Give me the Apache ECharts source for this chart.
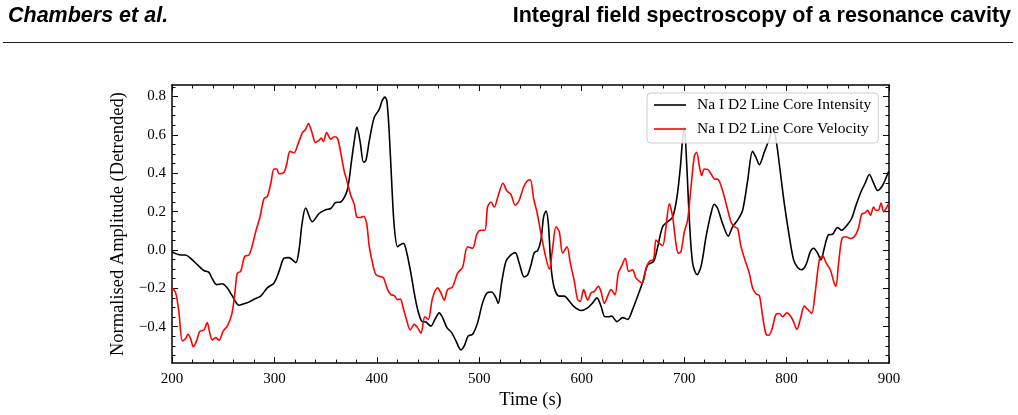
<!DOCTYPE html>
<html><head><meta charset="utf-8">
<script src="https://cdn.jsdelivr.net/npm/echarts@6/dist/echarts.min.js"></script>
<style>html,body{margin:0;padding:0;background:#fff}#c{width:1018px;height:415px}</style>
</head><body><div id="c"></div>
<script>
// ---- data ----
const intensityTime = [200,208.5,213,218,225,231,236,239,243.6,249,254,259,265.4,270,275,281.7,286.6,293,299.6,304.5,309.4,314,320.8,324,327,330.5,337,343.6,350,355,359.8,364.7,371,375.3,378,380.5,383.8,387,389.3,392.6,397.4,402.3,405,407.9,409.8,412,414.4,417,420.2,422.5,426,429.3,433.2,436.5,439.8,443.7,447.9,452.8,456.7,460.9,464.2,468.4,473,477.2,482,485.3,489.2,493.5,498.4,503.2,507.5,512,516.3,518.5,521.8,526,530.9,535.1,539,543.9,547.2,550.5,553.7,557,560.2,562.8,565.1,567.4,570,573.2,578.1,583,587.9,592.8,599.3,605.8,610.7,614.9,618.8,622.7,627,629.2,634.4,640,644.9,649.7,654.6,659.5,664.4,670.2,674.2,679,684,688.8,693,696.3,698.6,700.2,702.5,705.1,708.3,712.6,716.5,721.4,726.2,729.4,732.7,737.5,743.1,747.3,752.2,757.1,762,766.8,770.1,773.4,778.2,783.1,786.4,789.6,792.9,797.8,802.7,806.9,810.8,814.7,818.9,823.2,826.4,830.3,833.6,836.8,840.7,845,849.8,853.8,859,863.5,867.8,872.6,876.5,880.8,885,888.9,892.8,896,899.7];
const intensityValue = [-0.01,-0.026,-0.026,-0.043,-0.078,-0.107,-0.117,-0.147,-0.181,-0.176,-0.198,-0.241,-0.288,-0.281,-0.272,-0.253,-0.241,-0.198,-0.172,-0.112,-0.043,-0.04,-0.066,0.0,0.138,0.219,0.147,0.19,0.21,0.216,0.247,0.25,0.31,0.466,0.569,0.641,0.56,0.457,0.466,0.569,0.69,0.733,0.776,0.797,0.776,0.62,0.362,0.121,0.017,0.026,0.034,-0.017,-0.121,-0.224,-0.31,-0.371,-0.376,-0.397,-0.362,-0.328,-0.353,-0.405,-0.431,-0.474,-0.521,-0.5,-0.448,-0.44,-0.379,-0.276,-0.224,-0.219,-0.25,-0.279,-0.172,-0.06,-0.026,-0.014,-0.069,-0.141,-0.13,-0.078,-0.014,-0.003,0.052,0.172,0.203,0.138,-0.086,-0.198,-0.241,-0.241,-0.267,-0.297,-0.316,-0.302,-0.276,-0.25,-0.293,-0.348,-0.348,-0.345,-0.374,-0.353,-0.362,-0.31,-0.241,-0.169,-0.078,-0.06,0.017,0.121,0.147,0.172,0.276,0.431,0.586,0.64,0.448,0.155,-0.069,-0.129,-0.086,0.069,0.19,0.238,0.216,0.138,0.072,0.121,0.155,0.207,0.362,0.514,0.483,0.445,0.509,0.578,0.63,0.578,0.448,0.241,0.069,-0.052,-0.091,-0.103,-0.078,-0.009,0.009,-0.017,-0.052,0.009,0.078,0.083,0.117,0.103,0.129,0.164,0.233,0.302,0.345,0.393,0.348,0.31,0.328,0.362,0.41];
const velocityTime = [200,203.6,206.8,210.1,213.3,215.6,218.2,220.8,224,227,231.2,234.4,236.8,239.4,242.6,245.9,250.1,254,258.3,261.2,263.8,267.1,271,275.2,278.5,281.7,285.9,289.8,293.1,296.4,299.6,302.2,304.5,309.4,312,315.2,319.1,323,327.3,330.5,333.2,336.1,340.3,343.6,345.8,347.8,351,355,358.2,361.5,364.7,368,371.3,374.6,377.9,380.5,383.8,387,390,392.6,395.8,399.1,403.3,406.6,410.5,413.7,417,420.2,422.8,426.1,429.3,432.6,436.5,439.8,443,446.9,450.2,454.4,459.3,462.5,465.8,469,473.9,478.8,483.7,488.6,493.5,497.7,501.6,505.5,508.1,511.4,514.6,518.5,523.1,527,530.9,535.1,539,543.3,547.2,549.8,553.1,556.3,560.2,565.1,568.4,571.6,574.9,578.1,581.4,585.6,588.9,592.8,596,598.6,601.9,605.8,609.1,612.3,616.2,618.8,622.1,625.3,628.6,632.5,635.7,639,642.6,645.8,649.7,653,658.9,662.8,666,670.2,672.5,675.8,679,682.3,685.5,688.8,692,694.3,696.9,700.2,703.4,706.7,710,712.2,714.8,717.1,719.7,723,726.2,729.4,733.3,737.5,741.8,745.7,748.9,752.2,755.5,759.4,763.6,766.8,770.1,773.4,776.6,779.9,782.5,785.7,789.6,792.9,796.1,800.4,804.3,806.9,810.1,813.4,817.3,820.6,824.5,827.7,832,835.2,838.5,842.7,846,848.2,850.8,854.1,858,862.2,866.1,870.1,873.3,876.5,879.2,881.8,885,887.3,889.6,892.2,894.8,897.1,899.7];
const velocityValue = [-0.198,-0.224,-0.328,-0.474,-0.462,-0.44,-0.462,-0.505,-0.474,-0.426,-0.417,-0.379,-0.431,-0.469,-0.457,-0.471,-0.422,-0.397,-0.336,-0.233,-0.121,-0.112,-0.034,-0.026,0.026,0.095,0.172,0.267,0.279,0.345,0.422,0.422,0.397,0.405,0.448,0.514,0.507,0.552,0.612,0.629,0.659,0.621,0.56,0.572,0.583,0.566,0.612,0.578,0.59,0.583,0.509,0.414,0.35,0.284,0.238,0.172,0.169,0.176,0.138,0.017,-0.069,-0.129,-0.138,-0.147,-0.207,-0.233,-0.238,-0.259,-0.255,-0.31,-0.371,-0.417,-0.388,-0.405,-0.434,-0.348,-0.362,-0.25,-0.198,-0.224,-0.262,-0.207,-0.193,-0.121,-0.09,0.017,0.009,0.083,0.103,0.103,0.224,0.25,0.224,0.284,0.348,0.307,0.29,0.233,0.259,0.328,0.362,0.366,0.267,0.198,0.086,-0.043,-0.1,0.009,0.121,0.095,-0.017,0.017,-0.069,-0.164,-0.259,-0.267,-0.207,-0.262,-0.224,-0.216,-0.19,-0.216,-0.279,-0.241,-0.207,-0.233,-0.121,-0.083,-0.043,-0.112,-0.103,-0.147,-0.172,-0.095,-0.06,-0.048,0.052,0.034,0.022,0.121,0.241,0.172,0.034,-0.017,-0.009,0.095,0.155,0.328,0.491,0.509,0.44,0.388,0.422,0.42,0.397,0.371,0.367,0.31,0.224,0.147,0.121,0.112,0.017,-0.052,-0.121,-0.198,-0.228,-0.238,-0.345,-0.44,-0.445,-0.414,-0.336,-0.331,-0.348,-0.328,-0.348,-0.376,-0.414,-0.362,-0.293,-0.31,-0.331,-0.233,-0.052,-0.031,-0.066,-0.103,-0.164,-0.19,-0.069,0.06,0.069,0.06,0.069,0.112,0.186,0.193,0.207,0.181,0.224,0.207,0.207,0.245,0.198,0.216,0.241];
const seriesNames = ['Na I D2 Line Core Intensity', 'Na I D2 Line Core Velocity'];
const yMajorTicks = [-0.4,-0.2,0.0,0.2,0.4,0.6,0.8];
const yMinorTicks = [-0.55,-0.5,-0.45,-0.35,-0.3,-0.25,-0.15,-0.1,-0.05,0.05,0.1,0.15,0.25,0.3,0.35,0.45,0.5,0.55,0.65,0.7,0.75,0.85];
const headerLeft = 'Chambers et al.';
const headerRight = 'Integral field spectroscopy of a resonance cavity';
const xTitle = 'Time (s)';
const yTitle = 'Normalised Amplitude (Detrended)';

function pairs(t, v) { return t.map((x, i) => [x, v[i]]); }

const serif = 'Liberation Serif';
const tickStyle = {color:'#000', width:1};
const X_MIN = 200, X_MAX = 900, Y_MIN = -0.59, Y_MAX = 0.86;

function xAx(pos, labels) {
  return {
    type:'value', min:X_MIN, max:X_MAX, interval:100, position:pos,
    axisLine:{show:true, onZero:false, lineStyle:{color:'#000', width:1.5}},
    axisTick:{show:true, inside:true, length:6, lineStyle:tickStyle},
    minorTick:{show:true, splitNumber:5, length:3.5, lineStyle:tickStyle},
    splitLine:{show:false}, minorSplitLine:{show:false},
    axisLabel:{show:labels, margin:8, fontFamily:serif, fontSize:15, color:'#000'},
    name: labels ? xTitle : '', nameLocation:'middle', nameGap:24,
    nameTextStyle:{fontFamily:serif, fontSize:18.5, color:'#000'}
  };
}
function yAx(pos, ticks, len, line, labels) {
  return {
    type:'value', min:Y_MIN, max:Y_MAX, position:pos,
    axisLine:{show:line, onZero:false, lineStyle:{color:'#000', width:1.5}},
    axisTick:{show:true, inside:true, length:len, customValues:ticks, lineStyle:tickStyle},
    splitLine:{show:false},
    axisLabel:{show:labels, customValues:yMajorTicks, margin:6, fontFamily:serif, fontSize:15, color:'#000',
      formatter: v => v.toFixed(1).replace('-', '\u2212')},
    name: labels ? yTitle : '', nameLocation:'middle', nameGap:42, nameRotate:90,
    nameTextStyle:{fontFamily:serif, fontSize:18.5, color:'#000'}
  };
}

const chart = echarts.init(document.getElementById('c'), null, {renderer:'canvas'});
chart.setOption({
  animation:false,
  backgroundColor:'#fff',
  title:[
    {text:headerLeft, left:8, top:5, padding:0,
     textStyle:{fontFamily:'Liberation Sans', fontStyle:'italic', fontWeight:'bold', fontSize:21.5, color:'#000'}},
    {text:headerRight, right:7, top:5, padding:0,
     textStyle:{fontFamily:'Liberation Sans', fontWeight:'bold', fontSize:21.5, color:'#000'}}
  ],
  graphic:[{type:'line', shape:{x1:3, y1:42.5, x2:1013, y2:42.5}, style:{stroke:'#222', lineWidth:1}, silent:true}],
  grid:{left:172, right:129, top:85, bottom:49, containLabel:false},
  xAxis:[xAx('bottom', true), xAx('top', false)],
  yAxis:[
    yAx('left', yMajorTicks, 6, true, true),
    yAx('left', yMinorTicks, 3.5, false, false),
    yAx('right', yMajorTicks, 6, true, false),
    yAx('right', yMinorTicks, 3.5, false, false)
  ],
  legend:{
    orient:'vertical', left:647, top:93,
    data:seriesNames,
    icon:'rect',
    itemWidth:32, itemHeight:1.6, itemGap:8,
    padding:[4,7,6,7],
    backgroundColor:'rgba(255,255,255,0.85)', borderColor:'#cccccc', borderWidth:1, borderRadius:4,
    textStyle:{fontFamily:serif, fontSize:15.5, color:'#000', lineHeight:14, padding:[0,0,0,6]}
  },
  series:[
    {type:'line', name:seriesNames[0], xAxisIndex:0, yAxisIndex:0, data:pairs(intensityTime, intensityValue),
     symbol:'none', smooth:0.3, lineStyle:{color:'#000', width:1.6}, itemStyle:{color:'#000'}, z:2},
    {type:'line', name:seriesNames[1], xAxisIndex:0, yAxisIndex:0, data:pairs(velocityTime, velocityValue),
     symbol:'none', smooth:0.3, lineStyle:{color:'#ff0000', width:1.6}, itemStyle:{color:'#ff0000'}, z:3}
  ]
});
</script></body></html>
